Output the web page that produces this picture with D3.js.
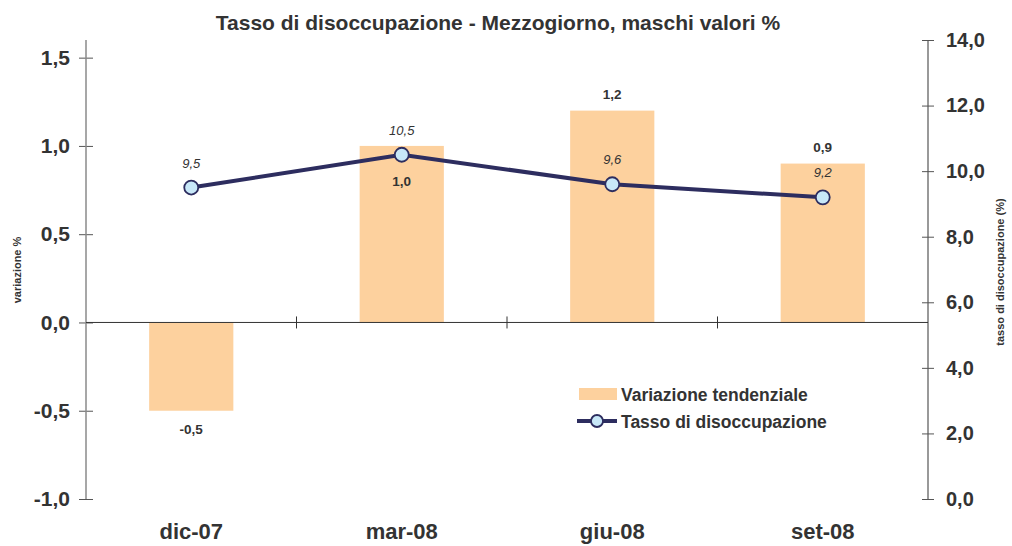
<!DOCTYPE html>
<html>
<head>
<meta charset="utf-8">
<script src="https://cdn.jsdelivr.net/npm/d3@7"></script>
<style>
  body { margin: 0; background: #fff; }
  text { font-family: "Liberation Sans", Arial, sans-serif; fill: #333; }
</style>
</head>
<body>
<script>
var categories = ['dic-07', 'mar-08', 'giu-08', 'set-08'];
var variazione = [-0.5, 1.0, 1.2, 0.9];
var tasso = [9.5, 10.5, 9.6, 9.2];
var leftTicks = [-1.0, -0.5, 0.0, 0.5, 1.0, 1.5];
var rightTicks = [0, 2, 4, 6, 8, 10, 12, 14];

var w = 1012, h = 546;
var margin = {left: 86, right: 84, top: 40, bottom: 47};
var fmt = d3.format('.1f');
var comma = v => fmt(v).replace('.', ',').replace('\u2212', '-');

var svg = d3.select('body')
  .append('svg')
  .attr('width', w)
  .attr('height', h);

var xScale = d3.scaleBand()
  .domain(categories)
  .range([margin.left, w - margin.right])
  .paddingInner(0.6)
  .paddingOuter(0.3);

var yLeft = d3.scaleLinear()
  .domain([-1, 1.6])
  .range([h - margin.bottom, margin.top]);

var yRight = d3.scaleLinear()
  .domain([0, 14])
  .range([h - margin.bottom, margin.top]);

// title
svg.append('text')
  .attr('x', 498)
  .attr('y', 30)
  .attr('text-anchor', 'middle')
  .style('font-size', '21px')
  .style('font-weight', 'bold')
  .text('Tasso di disoccupazione - Mezzogiorno, maschi valori %');

// bars
svg.selectAll('rect.bar')
  .data(variazione)
  .enter()
  .append('rect')
    .attr('class', 'bar')
    .attr('x', (d, i) => xScale(categories[i]))
    .attr('width', xScale.bandwidth())
    .attr('y', d => yLeft(Math.max(0, d)))
    .attr('height', d => Math.abs(yLeft(d) - yLeft(0)))
    .attr('fill', '#fdd19e');

// left axis
var leftAxis = d3.axisLeft(yLeft)
  .tickValues(leftTicks)
  .tickSize(0)
  .tickPadding(16)
  .tickFormat(comma);

var gl = svg.append('g')
  .attr('transform', `translate(${margin.left},0)`)
  .call(leftAxis);
gl.select('.domain').remove();
gl.selectAll('text')
  .style('font-size', '21px')
  .style('font-weight', 'bold')
  .style('fill', '#333');
gl.selectAll('.tick').append('line')
  .attr('x1', -7).attr('x2', 7)
  .attr('stroke', '#555');
gl.append('line')
  .attr('y1', margin.top).attr('y2', h - margin.bottom)
  .attr('stroke', '#8a8a8a').attr('stroke-width', 1.5);

// right axis
var rightAxis = d3.axisRight(yRight)
  .tickValues(rightTicks)
  .tickSize(0)
  .tickPadding(18)
  .tickFormat(comma);

var gr = svg.append('g')
  .attr('transform', `translate(${w - margin.right},0)`)
  .call(rightAxis);
gr.select('.domain').remove();
gr.selectAll('text')
  .style('font-size', '20px')
  .style('font-weight', 'bold')
  .style('fill', '#333');
gr.selectAll('.tick').append('line')
  .attr('x1', -6).attr('x2', 6)
  .attr('stroke', '#555');
gr.append('line')
  .attr('y1', margin.top).attr('y2', h - margin.bottom)
  .attr('stroke', '#555').attr('stroke-width', 1.2);

// zero line with category separators
var y0 = yLeft(0);
svg.append('line')
  .attr('x1', margin.left).attr('x2', w - margin.right)
  .attr('y1', y0).attr('y2', y0)
  .attr('stroke', '#333').attr('stroke-width', 1);

svg.selectAll('line.sep')
  .data(categories.slice(1))
  .enter()
  .append('line')
    .attr('class', 'sep')
    .attr('x1', d => xScale(d) - xScale.step() * xScale.paddingInner() / 2)
    .attr('x2', d => xScale(d) - xScale.step() * xScale.paddingInner() / 2)
    .attr('y1', y0 - 6).attr('y2', y0 + 6)
    .attr('stroke', '#333');

// category labels
svg.selectAll('text.cat')
  .data(categories)
  .enter()
  .append('text')
    .attr('class', 'cat')
    .attr('x', d => xScale(d) + xScale.bandwidth() / 2)
    .attr('y', 539)
    .attr('text-anchor', 'middle')
    .style('font-size', '22px')
    .style('font-weight', 'bold')
    .text(d => d);

// axis titles
svg.append('text')
  .attr('text-anchor', 'middle')
  .attr('transform', 'translate(21,270)rotate(-90)')
  .style('font-size', '11px')
  .style('font-weight', 'bold')
  .text('variazione %');

svg.append('text')
  .attr('text-anchor', 'middle')
  .attr('transform', 'translate(1004,272)rotate(-90)')
  .style('font-size', '11px')
  .style('font-weight', 'bold')
  .text('tasso di disoccupazione (%)');

// line
var cx = (d, i) => xScale(categories[i]) + xScale.bandwidth() / 2;
var line = d3.line()
  .x(cx)
  .y(d => yRight(d));

svg.append('path')
  .datum(tasso)
  .attr('d', line)
  .attr('fill', 'none')
  .attr('stroke', '#2d2d5f')
  .attr('stroke-width', 4);

svg.selectAll('circle.pt')
  .data(tasso)
  .enter()
  .append('circle')
    .attr('class', 'pt')
    .attr('cx', cx)
    .attr('cy', d => yRight(d))
    .attr('r', 7)
    .attr('fill', '#c8e8f8')
    .attr('stroke', '#2d2d5f')
    .attr('stroke-width', 1.8);

// line labels
svg.selectAll('text.lv')
  .data(tasso)
  .enter()
  .append('text')
    .attr('class', 'lv')
    .attr('x', cx)
    .attr('y', d => yRight(d) - 20)
    .attr('text-anchor', 'middle')
    .style('font-size', '13px')
    .style('font-style', 'italic')
    .text(d => comma(d));

// bar labels: below the bar end if negative, inside if the line sits on the bar top
svg.selectAll('text.bv')
  .data(variazione)
  .enter()
  .append('text')
    .attr('class', 'bv')
    .attr('x', (d, i) => cx(d, i))
    .attr('y', (d, i) => {
      if (d < 0) return yLeft(d) + 23;
      if (Math.abs(yRight(tasso[i]) - yLeft(d)) < 20) return yLeft(d) + 40;
      return yLeft(d) - 12;
    })
    .attr('text-anchor', 'middle')
    .style('font-size', '13.5px')
    .style('font-weight', 'bold')
    .text(d => comma(d));

// legend
var legend = svg.append('g')
  .attr('transform', 'translate(579,388)');

legend.append('rect')
  .attr('width', 38).attr('height', 12)
  .attr('fill', '#fdd19e');
legend.append('text')
  .attr('x', 42).attr('y', 13)
  .style('font-size', '17.5px')
  .style('font-weight', 'bold')
  .text('Variazione tendenziale');

legend.append('line')
  .attr('x1', -2).attr('x2', 38)
  .attr('y1', 33).attr('y2', 33)
  .attr('stroke', '#2d2d5f').attr('stroke-width', 4);
legend.append('circle')
  .attr('cx', 18).attr('cy', 33).attr('r', 6)
  .attr('fill', '#c8e8f8')
  .attr('stroke', '#2d2d5f').attr('stroke-width', 1.8);
legend.append('text')
  .attr('x', 42).attr('y', 40)
  .style('font-size', '17.5px')
  .style('font-weight', 'bold')
  .text('Tasso di disoccupazione');
</script>
</body>
</html>
